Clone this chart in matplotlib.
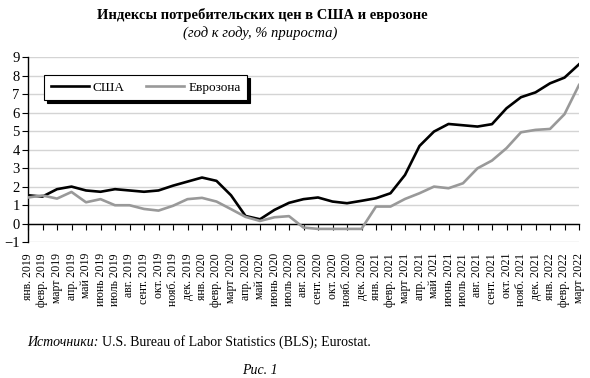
import matplotlib.pyplot as plt

plt.rcParams['font.family'] = ['Liberation Serif', 'DejaVu Serif']

# ---- data ----
months = ['янв.', 'февр.', 'март', 'апр.', 'май', 'июнь', 'июль',
          'авг.', 'сент.', 'окт.', 'нояб.', 'дек.']
years = [2019, 2020, 2021, 2022]
labels = [f"{m} {y}" for y in years for m in months][:39]

usa = [1.53, 1.46, 1.86, 2.0, 1.79, 1.72, 1.86, 1.79, 1.72, 1.79, 2.05, 2.27,
       2.49, 2.31, 1.53, 0.41, 0.23, 0.74, 1.12, 1.32, 1.41, 1.19, 1.1, 1.23,
       1.37, 1.64, 2.63, 4.2, 4.98, 5.39, 5.32, 5.25, 5.38, 6.24, 6.84, 7.1,
       7.59, 7.9, 8.62]
euro = [1.41, 1.52, 1.35, 1.71, 1.15, 1.32, 0.99, 0.99, 0.79, 0.7, 0.96, 1.32,
        1.39, 1.19, 0.78, 0.36, 0.14, 0.34, 0.4, -0.22, -0.29, -0.29, -0.29, -0.29,
        0.92, 0.92, 1.33, 1.64, 2.0, 1.91, 2.18, 2.99, 3.41, 4.08, 4.94, 5.07,
        5.12, 5.92, 7.5]
x = list(range(len(usa)))

# ---- figure ----
fig = plt.figure(figsize=(5.9, 3.78), dpi=100)
ax = fig.add_axes([28/590, 1 - 242/378, 551/590, 184.7/378])

ax.plot(x, usa, color='black', lw=1.9, label='США', zorder=3)
ax.plot(x, euro, color='#999999', lw=1.9, label='Еврозона', zorder=3)

ax.set_xlim(0, 38)
ax.set_ylim(-1, 9)
ax.set_yticks(range(-1, 10))
ax.set_yticklabels(['\u22121'] + [str(i) for i in range(0, 10)])
ax.yaxis.grid(True, color='#d4d4d4', lw=1)
ax.set_axisbelow(True)

for s in ['top', 'right']:
    ax.spines[s].set_visible(False)
ax.spines['bottom'].set_position(('data', 0))
ax.spines['bottom'].set_linewidth(1)
ax.spines['left'].set_linewidth(1)
ax.set_xticks(x)
ax.tick_params(axis='x', direction='out', length=4, labelbottom=False)
ax.tick_params(axis='y', direction='out', length=4, labelsize=10.5, pad=2)

sec = ax.secondary_xaxis(-0.06)
sec.set_xticks(x)
sec.set_xticklabels(labels, rotation=90, fontsize=8.5, va='top')
sec.tick_params(length=0, pad=0)
sec.spines['bottom'].set_visible(False)

leg = ax.legend(loc='upper left', bbox_to_anchor=(0.029, 0.904), ncol=2,
                frameon=True, fancybox=False, shadow={'color': 'black', 'alpha': 1},
                edgecolor='black', fontsize=9.5, handlelength=2.9,
                handletextpad=0.3, columnspacing=1.6, borderpad=0.5,
                borderaxespad=0)
leg.get_frame().set_linewidth(0.8)

# ---- texts ----
fig.text(262/590, 1 - 15/378, 'Индексы потребительских цен в США и еврозоне',
         ha='center', va='center', fontsize=10.5, fontweight='bold')
fig.text(260/590, 1 - 33/378, '(год к году, % прироста)',
         ha='center', va='center', fontsize=10.5, style='italic')
src1 = fig.text(27/590, 1 - 342/378, 'Источники:', ha='left', va='center',
                fontsize=10, style='italic')
fig.canvas.draw()
bb = src1.get_window_extent()
fig.text(bb.x1/590 + 4/590, 1 - 342/378,
         'U.S. Bureau of Labor Statistics (BLS); Eurostat.',
         ha='left', va='center', fontsize=10)
fig.text(260/590, 1 - 371/378, 'Рис. 1', ha='center', va='center',
         fontsize=10, style='italic')

fig.savefig('out.png', dpi=100)
